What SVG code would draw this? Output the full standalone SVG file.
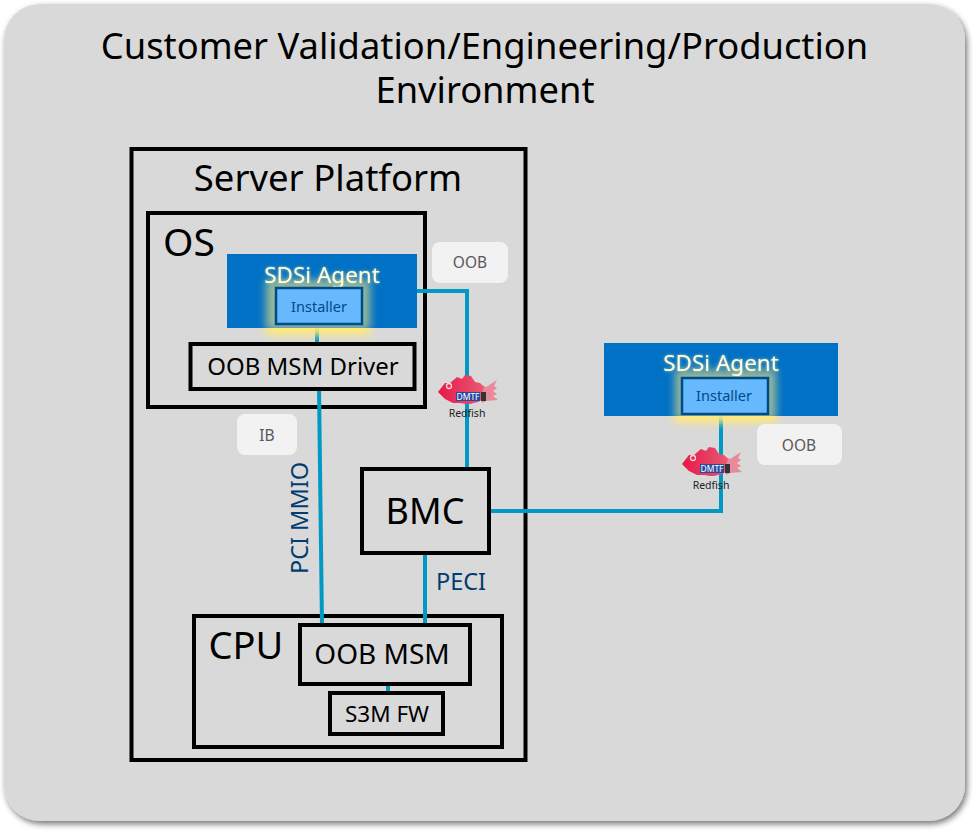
<svg xmlns="http://www.w3.org/2000/svg" width="977" height="834" viewBox="0 0 977 834">
<style>
text{font-family:"Noto Sans","Open Sans","DejaVu Sans",sans-serif;text-anchor:middle}
.box{fill:none;stroke:#000;stroke-width:4}
.wbox{fill:#d9d9d9;stroke:#000;stroke-width:4}
.agent{fill:#0071c5}
.inst{fill:#66b8ff;stroke:#004a86;stroke-width:2.500}
.itx{font-size:14.500px;fill:#004a86}
.atx{font-size:22.500px;fill:#fffde8;filter:url(#textglow)}
.pill{fill:#f2f2f2}
.ptx{font-size:15.500px;fill:#595959}
.conn{fill:none;stroke:#0099c4;stroke-width:4}
.lbl{font-size:23.500px;fill:#003c71}
.glow{fill:#ffe97a;opacity:.95;filter:url(#blur)}
.glowtop{fill:#ffe97a;opacity:.6;filter:url(#blur)}
.fish{fill:url(#fishgrad)}
.tail{fill:#e98a9a}
</style>
<defs>
<linearGradient id="fishgrad" x1="0" x2="1" y1="0" y2="0"><stop offset="0" stop-color="#e6184a"/><stop offset="1" stop-color="#e85a72"/></linearGradient>
<filter id="shadow" x="-5%" y="-5%" width="110%" height="110%"><feGaussianBlur in="SourceAlpha" stdDeviation="3"/><feOffset dx="2" dy="3"/><feComponentTransfer><feFuncA type="linear" slope=".55"/></feComponentTransfer><feMerge><feMergeNode/><feMergeNode in="SourceGraphic"/></feMerge></filter>
<filter id="blur" x="-30%" y="-50%" width="160%" height="200%"><feGaussianBlur stdDeviation="4"/></filter>
<filter id="soft" x="-5%" y="-5%" width="110%" height="110%"><feGaussianBlur stdDeviation=".5"/></filter>
<filter id="textglow" x="-10%" y="-30%" width="120%" height="160%"><feGaussianBlur in="SourceAlpha" stdDeviation="1.500" result="b"/><feFlood flood-color="#ffe97a" flood-opacity=".7"/><feComposite in2="b" operator="in"/><feMerge><feMergeNode/><feMergeNode in="SourceGraphic"/></feMerge></filter>
<g id="redfish">
<g filter="url(#soft)">
<path class="tail" d="M42 9 L48 12 L59 5 L56 11 L59 13 L55 16 L59 19 L55 21 L60 25 L48 26 L44 28 Z"/>
<path class="fish" d="M0 17 L7 8 L12 8 L19 2 L24 4 L27 0 L33 1 L37 7 L42 8 L46 12 L44 18 L46 24 L40 27 L32 29 L28 29 L22 28 L15 28 L7 24 Z"/>
</g>
<circle cx="11" cy="11" r="2.500" fill="none" stroke="#ffd5dc" stroke-width="1.300"/>
<rect x="18" y="17" width="24" height="9" fill="#2a4a9e"/>
<rect x="43" y="17" width="5" height="9" fill="#333"/>
<text x="30" y="25" style="font-size:8.500px;fill:#fff">DMTF</text>
<text x="29" y="42" style="font-size:10.500px;fill:#222">Redfish</text>
</g>
</defs>
<rect width="977" height="834" fill="#fff"/>
<g id="panel">
<rect x="4" y="4" width="961" height="817" rx="36" fill="#d9d9d9" filter="url(#shadow)"/>
<text style="font-size:36.300px"><tspan x="484.500" y="59">Customer Validation/Engineering/Production</tspan><tspan x="485" y="103">Environment</tspan></text>
</g>
<g id="server-platform">
<rect class="box" x="131.500" y="149" width="394" height="611"/>
<text x="328" y="191" style="font-size:36.500px">Server Platform</text>
</g>
<g id="os">
<rect class="box" x="148" y="213" width="277" height="194"/>
<text x="189" y="256" style="font-size:39px">OS</text>
</g>
<g id="cpu">
<rect class="box" x="194" y="616" width="308" height="131"/>
<text x="246" y="659" style="font-size:38px">CPU</text>
</g>
<g id="connectors">
<path class="conn" d="M317 320V345"/>
<path class="conn" d="M417 291H467V470"/>
<path class="conn" d="M319 388L322 626"/>
<path class="conn" d="M425 552V626"/>
<path class="conn" d="M388 684V694"/>
<path class="conn" d="M490 511H721V410"/>
</g>
<g id="agent-left">
<rect class="glow" x="266" y="285" width="104" height="50"/>
<rect class="agent" x="227" y="254" width="190" height="74"/>
<rect class="glowtop" x="266" y="280" width="104" height="50"/>
<text class="atx" x="322" y="283">SDSi Agent</text>
<rect class="inst" x="276" y="288" width="86" height="36"/>
<text class="itx" x="319" y="312">Installer</text>
</g>
<g id="oob-driver">
<rect class="wbox" x="190.500" y="344" width="224" height="45"/>
<text x="303" y="375" style="font-size:24px">OOB MSM Driver</text>
</g>
<g id="bmc">
<rect class="wbox" x="362" y="469" width="127" height="84"/>
<text x="425" y="524" style="font-size:36px">BMC</text>
</g>
<g id="oob-msm">
<rect class="wbox" x="300" y="625" width="170" height="59"/>
<text x="382" y="664" style="font-size:28px">OOB MSM</text>
</g>
<g id="s3m-fw">
<rect class="wbox" x="330" y="693" width="113" height="41"/>
<text x="387" y="722" style="font-size:22.500px">S3M FW</text>
</g>
<g id="agent-right">
<rect class="glow" x="675" y="374" width="101" height="48"/>
<rect class="agent" x="604" y="343" width="234" height="73"/>
<rect class="glowtop" x="675" y="370" width="101" height="50"/>
<text class="atx" x="721" y="371">SDSi Agent</text>
<rect class="inst" x="682" y="378" width="86" height="36"/>
<text class="itx" x="724" y="401">Installer</text>
</g>
<g id="pill-oob1"><rect class="pill" x="432" y="242" width="76" height="41" rx="8"/><text class="ptx" x="470" y="268">OOB</text></g>
<g id="pill-oob2"><rect class="pill" x="757" y="424" width="85" height="41" rx="8"/><text class="ptx" x="799" y="451">OOB</text></g>
<g id="pill-ib"><rect class="pill" x="237" y="414" width="60" height="41" rx="8"/><text class="ptx" x="267" y="441">IB</text></g>
<g id="label-mmio"><text class="lbl" transform="translate(308,518) rotate(-90)">PCI MMIO</text></g>
<g id="label-peci"><text class="lbl" x="461" y="590">PECI</text></g>
<g id="redfish-1"><use href="#redfish" x="438" y="375"/></g>
<g id="redfish-2"><use href="#redfish" x="682" y="447"/></g>
</svg>
